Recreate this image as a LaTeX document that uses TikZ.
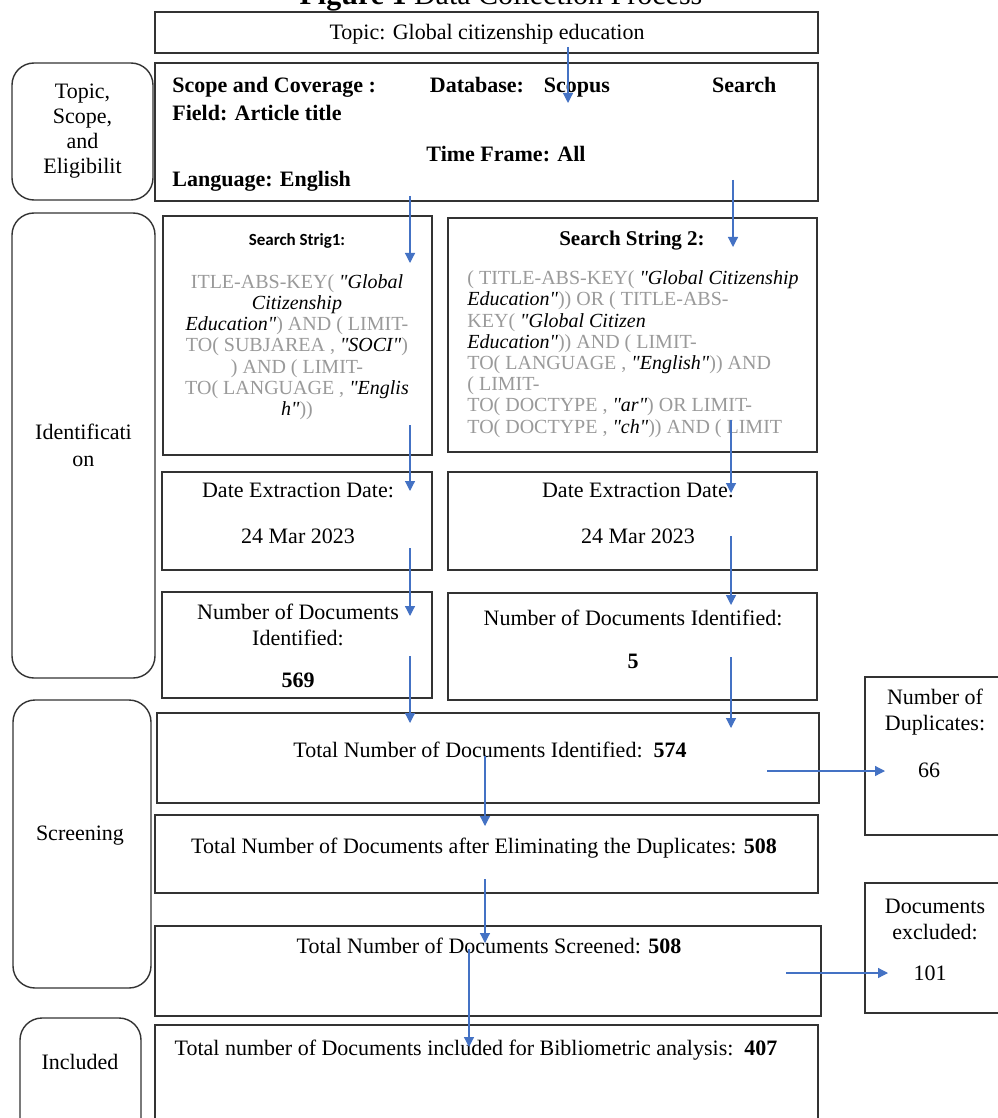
\documentclass[tikz,border=0pt]{standalone}
\usepackage{fontspec}
\setmainfont{Liberation Serif}[Ligatures=TeXOff]
\newfontfamily\calibri{Carlito}
\usepackage{tikz}
\usetikzlibrary{arrows.meta,fit,positioning}
\usepackage{xcolor}
\definecolor{flowblue}{HTML}{4472C4}
\definecolor{querygray}{HTML}{9A9A9A}
\definecolor{boxline}{HTML}{333333}
\newcommand{\qt}[1]{\textcolor{black}{\textit{#1}}}

\begin{document}
\begin{tikzpicture}[x=0.5pt,y=-0.5pt,>={Triangle[width=5pt,length=5pt]},
  box/.style={draw=boxline,line width=0.7pt,inner sep=0pt,fit={#1}},
  stage/.style={box={#1},rounded corners=11pt},
  lbl/.style={inner sep=0pt,align=center,font=\fontsize{11}{13}\selectfont},
  query/.style={inner sep=0pt,text=querygray,font=\fontsize{10}{10.6}\selectfont},
  flow/.style={->,draw=flowblue,line width=0.6pt}]
\path[use as bounding box,fill=white] (0,0) rectangle (997,1118);

\node[lbl,anchor=base,font=\fontsize{15}{17}\selectfont] (title) at (501,5) {\textbf{Figure 1} Data Collection Process};

% stages on the left
\node[stage={(12,63) (153,200)}] (stTopic) {};
\node[stage={(12,213) (155,678)}] (stIdent) {};
\node[stage={(13,700) (151,988)}] (stScreen) {};
\node[stage={(20,1018) (141,1140)}] (stIncl) {};
\node[lbl,font=\fontsize{11}{12.5}\selectfont] at (stTopic) {Topic,\\Scope,\\and\\Eligibilit};
\node[lbl,font=\fontsize{11}{13.5}\selectfont] at (stIdent) {Identificati\\on};
\node[lbl] at (80,836) {Screening};
\node[lbl] at (80,1062) {Included};

% topic and scope
\node[box={(155,12) (818,53)}] (topic) {};
\node[lbl] (topicT) at (487,34) {Topic: Global citizenship education};
\node[box={(155,63) (818,201)}] (scope) {};
\node[lbl,anchor=west,font=\fontsize{11}{13}\selectfont\bfseries] (scopeA) at (172,87)
  {\makebox[302pt][l]{Scope and Coverage :\hspace{27pt}Database:\hspace{10pt}Scopus\hfill Search}};
\node[lbl,anchor=west,font=\fontsize{11}{13}\selectfont\bfseries] (scopeB) at (172,113) {Field: Article title};
\node[lbl,font=\fontsize{11}{13}\selectfont\bfseries] (scopeC) at (506,154) {Time Frame: All};
\node[lbl,anchor=west,font=\fontsize{11}{13}\selectfont\bfseries] (scopeD) at (172,181) {Language: English};

% search strings
\node[box={(163,216) (432,455)}] (str1) {};
\node[lbl,font=\calibri\fontsize{8.5}{9}\selectfont\bfseries] (str1H) at (297,241) {Search Strig1:};
\node[query,align=center] (str1Q) at (297,347)
  {ITLE-ABS-KEY( \qt{"Global}\\
   \qt{Citizenship}\\
   \qt{Education"}) AND ( LIMIT-\\
   TO( SUBJAREA , \qt{"SOCI"})\\
   ) AND ( LIMIT-\\
   TO( LANGUAGE , \qt{"Englis}\\
   \qt{h"}))};
\node[box={(448,218) (817,452)}] (str2) {};
\node[lbl,font=\fontsize{10.5}{12}\selectfont\bfseries] (str2H) at (632,241) {Search String 2:};
\node[query,align=left,anchor=west] (str2Q) at (467,354)
  {( TITLE-ABS-KEY( \qt{"Global Citizenship}\\
   \qt{Education"})) OR ( TITLE-ABS-\\
   KEY( \qt{"Global Citizen}\\
   \qt{Education"})) AND ( LIMIT-\\
   TO( LANGUAGE , \qt{"English"})) AND\\
   ( LIMIT-\\
   TO( DOCTYPE , \qt{"ar"}) OR LIMIT-\\
   TO( DOCTYPE , \qt{"ch"})) AND ( LIMIT};

% extraction dates and counts
\node[box={(162,472) (432,570)}] (date1) {};
\node[lbl] (date1A) at (298,490) {Date Extraction Date:};
\node[lbl] (date1B) at (298,536) {24 Mar 2023};
\node[box={(448,472) (817,570)}] (date2) {};
\node[lbl] (date2A) at (638,490) {Date Extraction Date:};
\node[lbl] (date2B) at (638,536) {24 Mar 2023};
\node[box={(162,592) (432,698)}] (num1) {};
\node[lbl] (num1A) at (298,625) {Number of Documents\\Identified:};
\node[lbl] (num1B) at (298,680) {\textbf{569}};
\node[box={(448,593) (817,700)}] (num2) {};
\node[lbl] (num2A) at (633,618) {Number of Documents Identified:};
\node[lbl] (num2B) at (633,661) {\textbf{5}};

% screening and inclusion
\node[box={(157,713) (819,803)}] (total) {};
\node[lbl] (totalT) at (490,750) {Total Number of Documents Identified:\ \ \textbf{574}};
\node[box={(155,815) (818,893)}] (unique) {};
\node[lbl] (uniqueT) at (484,848) {Total Number of Documents after Eliminating the Duplicates: \textbf{508}};
\node[box={(155,926) (821,1016)}] (screened) {};
\node[lbl] (screenedT) at (489,946) {Total Number of Documents Screened: \textbf{508}};
\node[box={(155,1025) (818,1140)}] (included) {};
\node[lbl] (includedT) at (476,1050) {Total number of Documents included for Bibliometric analysis:\ \ \textbf{407}};
\node[box={(865,677) (1012,835)}] (dupl) {};
\node[lbl] (duplA) at (935,712) {Number of\\Duplicates:};
\node[lbl] (duplB) at (929,770) {66};
\node[box={(865,883) (1012,1013)}] (excl) {};
\node[lbl] (exclA) at (935,919) {Documents\\excluded:};
\node[lbl] (exclB) at (930,973) {101};

% arrow ends
\foreach \n/\x/\y in {a1/568/47,b1/568/103,a2/410/196,b2/410/263,a3/733/180,b3/733/247,
  a4/410/425,b4/410/491,a5/731/420,b5/731/493,a6/410/548,b6/410/616,a7/731/536,b7/731/605,
  a8/410/656,b8/410/723,a9/731/657,b9/731/728,a10/485/756,b10/485/826,a11/485/879,b11/485/943,
  a12/469/949,b12/469/1047,a13/767/771,b13/885/771,a14/786/973,b14/888/973}
  \coordinate (\n) at (\x,\y);
\foreach \i in {1,...,14}
  \draw[flow] (a\i) -- (b\i);
\end{tikzpicture}
\end{document}
